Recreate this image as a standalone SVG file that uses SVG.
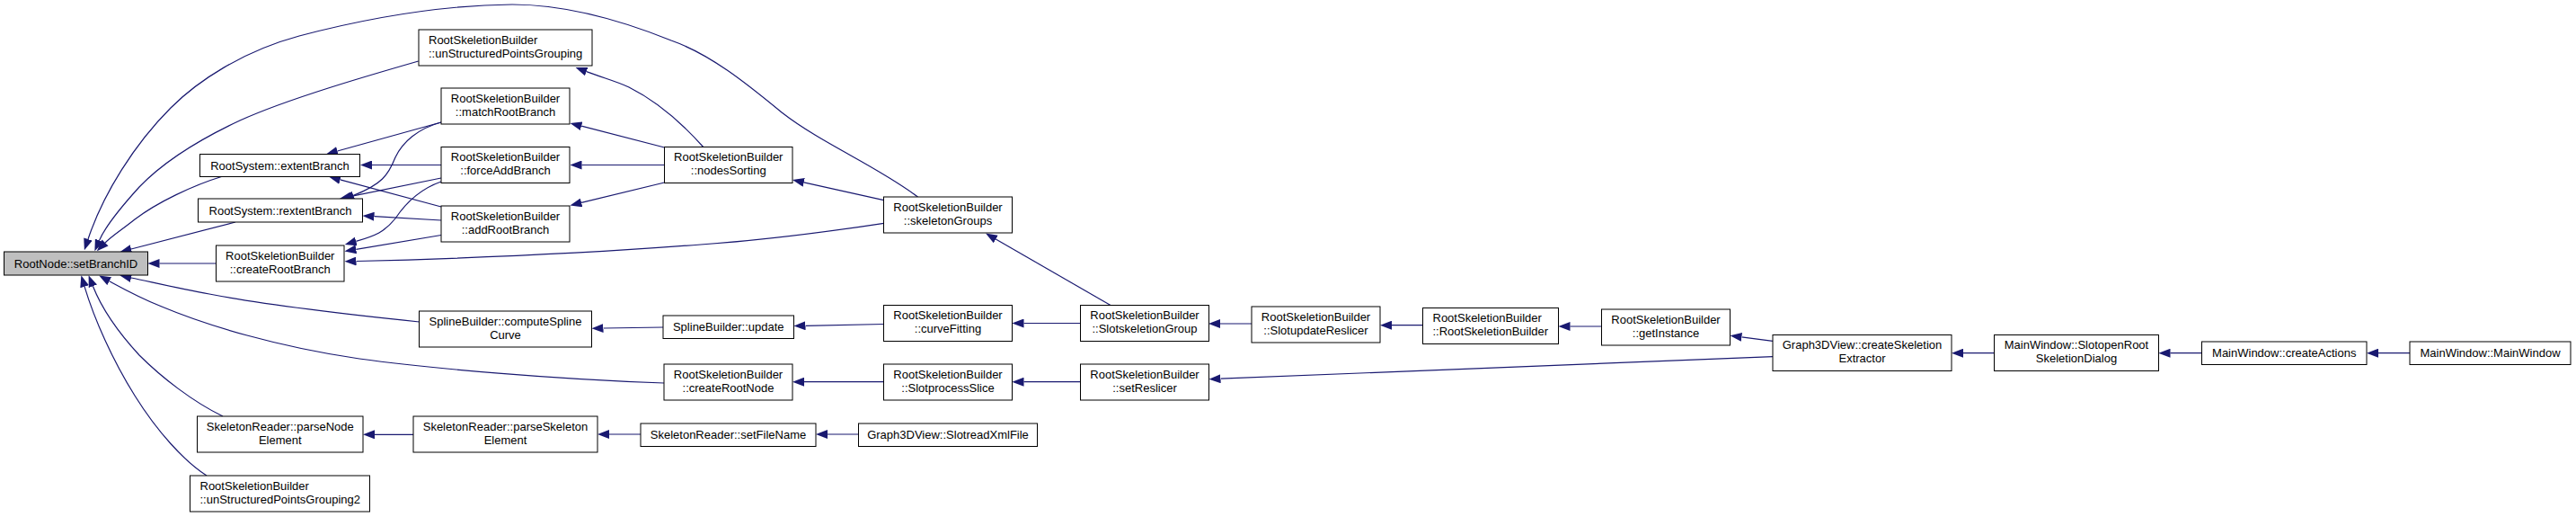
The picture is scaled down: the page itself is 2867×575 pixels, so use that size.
<svg xmlns="http://www.w3.org/2000/svg" width="2867" height="575" viewBox="0 0 2867 575">
<style>
.n rect{fill:#fff;stroke:#000;stroke-width:1}
.n.g rect{fill:#bfbfbf}
.n text{font-family:"Liberation Sans",Arial,sans-serif;font-size:13px;text-anchor:middle;fill:#000}
.n text.l{text-anchor:start}
.e path{fill:none;stroke:#191970;stroke-width:1.2;marker-end:url(#a)}
</style>
<defs>
<marker id="a" markerUnits="userSpaceOnUse" markerWidth="13" markerHeight="10" viewBox="0 0 13 10" refX="0" refY="5" orient="auto"><path d="M0,0 L13,5 L0,10 z" fill="#191970"/></marker>
</defs>
<rect width="2867" height="575" fill="#fff"/>
<g id="edges" class="e">
<path d="M1021.5,219 C975,184 915,160 870,125 C830,92 790,60 747,45 C690,22 630,5 570,5 C480,6 390,25 333,40 C270,57 220,90 190,120 C150,160 115,215 98,266"/>
<path d="M465.7,68 C410,84 320,110 267,134 C220,156 180,182 155,208 C135,230 118,250 110.5,267.4"/>
<path d="M248,196 C215,206 175,225 150,244 C135,256 125,262 117,270"/>
<path d="M262,247 C220,258 180,268 146,277"/>
<path d="M240.5,293 L177.5,293"/>
<path d="M466.7,358 C400,351 300,340 233,327 C200,321 170,314 146,309"/>
<path d="M739,426 C620,422 480,410 400,399 C310,386 230,362 180,341 C155,331 137,321 121.7,312.7"/>
<path d="M248,463 C215,447 180,420 155,395 C130,368 112,340 103.4,318.3"/>
<path d="M230,529 C205,513 175,480 150,440 C125,400 105,355 94.1,318.8"/>
<path d="M491,136 L375.5,168"/>
<path d="M491,183.5 L414,183.5"/>
<path d="M491,230 L378.6,199.9"/>
<path d="M491,136 C465,143 448,158 440,175 C432,195 425,205 393.4,217.4"/>
<path d="M491,198 L390.7,218.4"/>
<path d="M491,245 L416.5,240.7"/>
<path d="M491,202 C468,210 452,225 440,243 C428,258 418,262 396.3,268.4"/>
<path d="M491,261.5 L396.3,277.3"/>
<path d="M983.6,248.3 C920,258 850,267 780,272 C650,282 500,288 396.5,290.5"/>
<path d="M782.7,163.5 C760,138 730,112 700,97 C685,90 672,87 652.7,79.6"/>
<path d="M739.5,164 L647.1,140.2"/>
<path d="M739.5,183.5 L647.5,183.5"/>
<path d="M739.5,203 L647.1,225.4"/>
<path d="M983.6,222.7 L894.7,202.8"/>
<path d="M1236,339.5 L1108.3,266"/>
<path d="M738,364 L671.5,365"/>
<path d="M983.5,360.5 L896.5,362.3"/>
<path d="M1202.5,359.5 L1139.5,359.5"/>
<path d="M1393,360 L1358,360"/>
<path d="M1583.5,361.7 L1549,361.7"/>
<path d="M1782.5,363 L1747.5,363"/>
<path d="M1973,379.3 L1938.4,374.9"/>
<path d="M983.5,424.7 L895,424.7"/>
<path d="M1202.5,424.7 L1139.5,424.7"/>
<path d="M1973,396.7 L1358.5,421.2"/>
<path d="M460,483.3 L417,483.3"/>
<path d="M713,483 L678,483"/>
<path d="M955.5,483 L921,483"/>
<path d="M2219.5,392.7 L2185,392.7"/>
<path d="M2450.5,392.7 L2415.5,392.7"/>
<path d="M2682,392.7 L2647,392.7"/>
</g>
<g id="n1" class="n g"><rect x="4.5" y="280" width="160" height="26"/><text x="84.5" y="297.5">RootNode::setBranchID</text></g>
<g id="n2" class="n"><rect x="466" y="33" width="193" height="40"/><text class="l" x="477" y="48.5">RootSkeletionBuilder</text><text class="l" x="477" y="63.5">::unStructuredPointsGrouping</text></g>
<g id="n3" class="n"><rect x="491" y="98" width="143" height="40"/><text x="562.5" y="113.5">RootSkeletionBuilder</text><text x="562.5" y="128.5">::matchRootBranch</text></g>
<g id="n4" class="n"><rect x="222.5" y="171.5" width="178" height="25"/><text x="311.5" y="188.5">RootSystem::extentBranch</text></g>
<g id="n5" class="n"><rect x="491" y="163.5" width="143" height="40"/><text x="562.5" y="179">RootSkeletionBuilder</text><text x="562.5" y="194">::forceAddBranch</text></g>
<g id="n6" class="n"><rect x="220.5" y="221" width="183" height="26"/><text x="312" y="238.5">RootSystem::rextentBranch</text></g>
<g id="n7" class="n"><rect x="491" y="229" width="143" height="40"/><text x="562.5" y="244.5">RootSkeletionBuilder</text><text x="562.5" y="259.5">::addRootBranch</text></g>
<g id="n8" class="n"><rect x="240.5" y="273" width="142.5" height="40"/><text x="311.75" y="288.5">RootSkeletionBuilder</text><text x="311.75" y="303.5">::createRootBranch</text></g>
<g id="n9" class="n"><rect x="466.5" y="346" width="192" height="40"/><text x="562.5" y="361.5">SplineBuilder::computeSpline</text><text x="562.5" y="376.5">Curve</text></g>
<g id="n10" class="n"><rect x="219.5" y="463" width="184.5" height="40"/><text x="311.75" y="478.5">SkeletonReader::parseNode</text><text x="311.75" y="493.5">Element</text></g>
<g id="n11" class="n"><rect x="460" y="463" width="205" height="40"/><text x="562.5" y="478.5">SkeletonReader::parseSkeleton</text><text x="562.5" y="493.5">Element</text></g>
<g id="n12" class="n"><rect x="211.5" y="529" width="200" height="40"/><text class="l" x="222.5" y="544.5">RootSkeletionBuilder</text><text class="l" x="222.5" y="559.5">::unStructuredPointsGrouping2</text></g>
<g id="n13" class="n"><rect x="739.5" y="163.5" width="142.5" height="40"/><text x="810.75" y="179">RootSkeletionBuilder</text><text x="810.75" y="194">::nodesSorting</text></g>
<g id="n14" class="n"><rect x="983.5" y="219" width="143" height="40"/><text x="1055" y="234.5">RootSkeletionBuilder</text><text x="1055" y="249.5">::skeletonGroups</text></g>
<g id="n15" class="n"><rect x="738" y="351" width="145.5" height="25.5"/><text x="810.75" y="368.2">SplineBuilder::update</text></g>
<g id="n16" class="n"><rect x="983.5" y="339.5" width="143" height="40"/><text x="1055" y="355">RootSkeletionBuilder</text><text x="1055" y="370">::curveFitting</text></g>
<g id="n17" class="n"><rect x="1202.5" y="339.5" width="143" height="40"/><text x="1274" y="355">RootSkeletionBuilder</text><text x="1274" y="370">::SlotskeletionGroup</text></g>
<g id="n18" class="n"><rect x="739" y="405" width="143" height="40"/><text x="810.5" y="420.5">RootSkeletionBuilder</text><text x="810.5" y="435.5">::createRootNode</text></g>
<g id="n19" class="n"><rect x="983.5" y="405" width="143" height="40"/><text x="1055" y="420.5">RootSkeletionBuilder</text><text x="1055" y="435.5">::SlotprocessSlice</text></g>
<g id="n20" class="n"><rect x="1202.5" y="405" width="143" height="40"/><text x="1274" y="420.5">RootSkeletionBuilder</text><text x="1274" y="435.5">::setReslicer</text></g>
<g id="n21" class="n"><rect x="713" y="471" width="195" height="25.5"/><text x="810.5" y="488.2">SkeletonReader::setFileName</text></g>
<g id="n22" class="n"><rect x="955.5" y="471" width="199" height="25.5"/><text x="1055" y="488.2">Graph3DView::SlotreadXmlFile</text></g>
<g id="n23" class="n"><rect x="1393" y="341" width="143" height="40"/><text x="1464.5" y="356.5">RootSkeletionBuilder</text><text x="1464.5" y="371.5">::SlotupdateReslicer</text></g>
<g id="n24" class="n"><rect x="1583.5" y="342.5" width="151" height="40"/><text class="l" x="1594.5" y="358">RootSkeletionBuilder</text><text class="l" x="1594.5" y="373">::RootSkeletionBuilder</text></g>
<g id="n25" class="n"><rect x="1782.5" y="344" width="143" height="40"/><text x="1854" y="359.5">RootSkeletionBuilder</text><text x="1854" y="374.5">::getInstance</text></g>
<g id="n26" class="n"><rect x="1973" y="372.5" width="199" height="40"/><text x="2072.5" y="388">Graph3DView::createSkeletion</text><text x="2072.5" y="403">Extractor</text></g>
<g id="n27" class="n"><rect x="2219.5" y="372.5" width="183" height="40"/><text x="2311" y="388">MainWindow::SlotopenRoot</text><text x="2311" y="403">SkeletionDialog</text></g>
<g id="n28" class="n"><rect x="2450.5" y="380" width="183.5" height="25.5"/><text x="2542.25" y="397.2">MainWindow::createActions</text></g>
<g id="n29" class="n"><rect x="2682" y="380" width="179" height="25.5"/><text x="2771.5" y="397.2">MainWindow::MainWindow</text></g>
</svg>
